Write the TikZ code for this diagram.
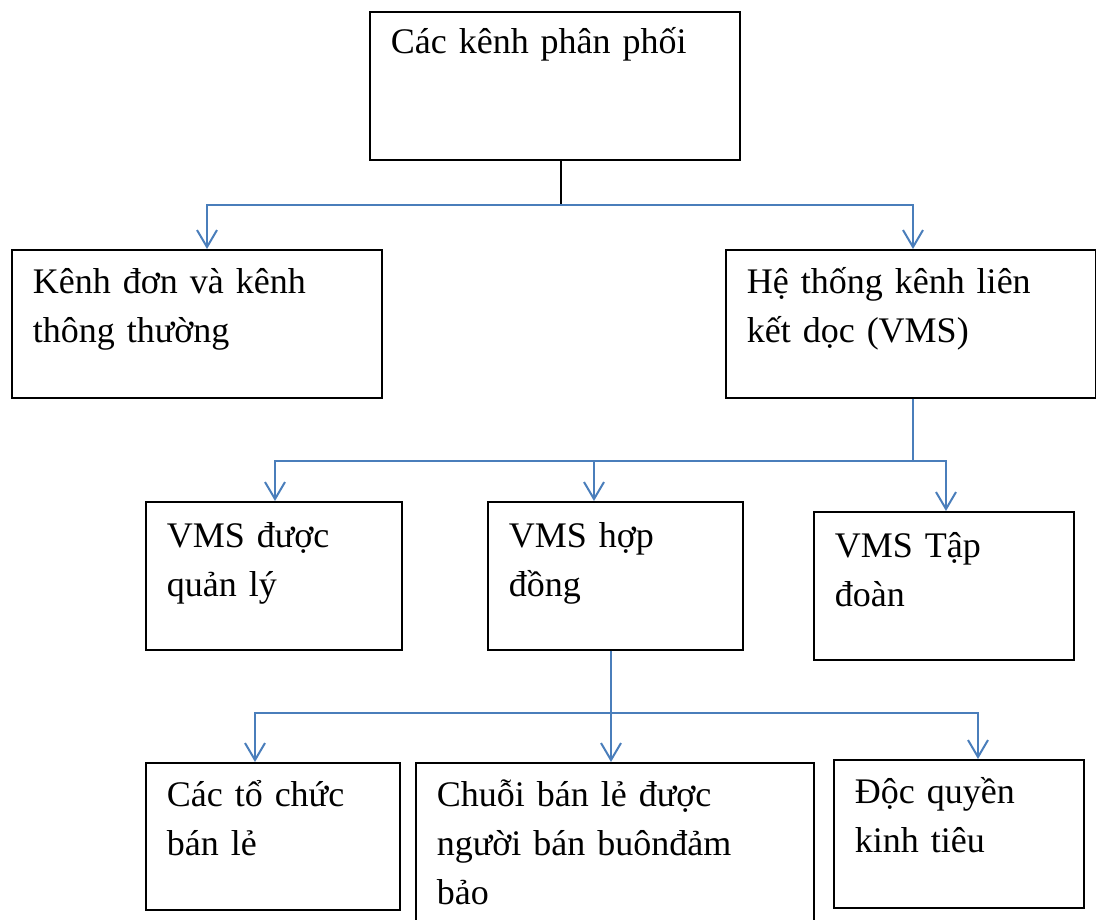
\documentclass[tikz,border=0pt]{standalone}
\usepackage{fontspec}
\setmainfont{Liberation Serif}
\usetikzlibrary{arrows.meta}
\definecolor{linkblue}{RGB}{74,126,187}
\begin{document}
\begin{tikzpicture}[x=1pt,y=-1pt,
  box/.style={draw=black, line width=1.6pt, anchor=north west,
    inner xsep=21pt, inner ysep=0pt, align=left,
    font=\fontsize{36}{49}\selectfont},
  stem/.style={draw=black, line width=2pt},
  link/.style={draw=linkblue, line width=2pt},
  arr/.style={-{Straight Barb[length=17pt,width=20pt,line width=2pt]}}]
\useasboundingbox (0,0) rectangle (1096,920);

% boxes
\node[box, text width=328pt, text height=42pt, text depth=106pt] (top) at (369,11) {Các kênh phân phối};
\node[box, text width=328pt, text height=44pt, text depth=104pt] (left) at (11,249) {Kênh đơn và kênh\\thông thường};
\node[box, text width=328pt, text height=44pt, text depth=104pt] (right) at (725,249) {Hệ thống kênh liên\\kết dọc (VMS)};
\node[box, text width=214pt, text height=46pt, text depth=102pt] (managed) at (145,501) {VMS được\\quản lý};
\node[box, text width=213pt, text height=46pt, text depth=102pt] (contract) at (487,501) {VMS hợp\\đồng};
\node[box, text width=218pt, text height=46pt, text depth=102pt] (corp) at (813,511) {VMS Tập\\đoàn};
\node[box, text width=212pt, text height=44pt, text depth=103pt] (retail) at (145,762) {Các tổ chức\\bán lẻ};
\node[box, text width=356pt, text height=44pt, text depth=200pt] (chain) at (415,762) {Chuỗi bán lẻ được\\người bán buônđảm\\bảo};
\node[box, text width=208pt, text height=44pt, text depth=104pt] (franchise) at (833,759) {Độc quyền\\kinh tiêu};

% junction points and drop positions
\coordinate (j0) at (561,205);
\coordinate (a1) at (207,205);
\coordinate (a2) at (913,205);
\coordinate (j1) at (913,461);
\coordinate (b1) at (275,461);
\coordinate (b2) at (594,461);
\coordinate (b3) at (946,461);
\coordinate (j2) at (611,713);
\coordinate (c1) at (255,713);
\coordinate (c3) at (978,713);

% first level
\draw[stem] (top.south -| j0) -- (j0);
\draw[link, arr] (j0) -| (left.north -| a1);
\draw[link, arr] (j0) -| (right.north -| a2);

% second level
\draw[link] (right.south -| j1) -- (j1);
\draw[link, arr] (j1) -| (managed.north -| b1);
\draw[link, arr] (j1) -| (contract.north -| b2);
\draw[link, arr] (j1) -| (corp.north -| b3);

% third level
\draw[link] (contract.south -| j2) -- (j2);
\draw[link, arr] (j2) -| (retail.north -| c1);
\draw[link, arr] (j2) -- (chain.north -| j2);
\draw[link, arr] (j2) -| (franchise.north -| c3);
\end{tikzpicture}
\end{document}
